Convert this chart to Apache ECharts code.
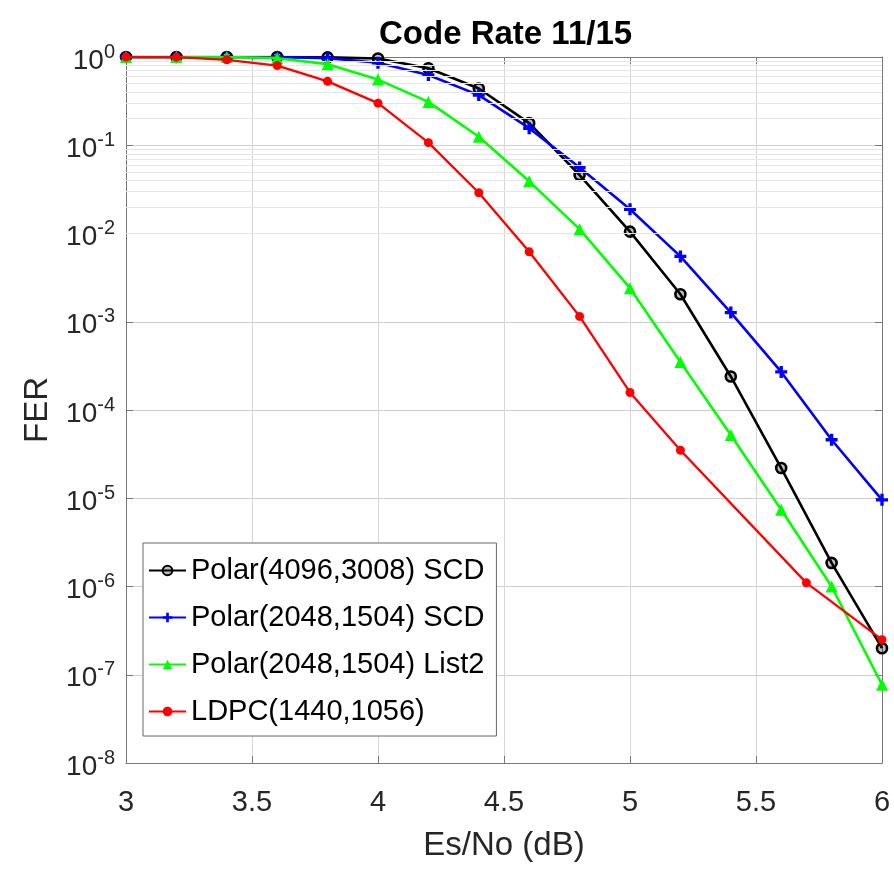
<!DOCTYPE html>
<html>
<head>
<meta charset="utf-8">
<script src="https://cdn.jsdelivr.net/npm/echarts@6/dist/echarts.min.js"></script>
<style>
html,body{margin:0;padding:0;background:#fff;}
#chart{width:894px;height:870px;}
</style>
</head>
<body>
<div id="chart"></div>
<script>
// ---- data ----
const esno = [3.0, 3.2, 3.4, 3.6, 3.8, 4.0, 4.2, 4.4, 4.6, 4.8, 5.0, 5.2, 5.4, 5.6, 5.8, 6.0];
const ferPolar4096SCD = [1, 1, 1, 1, 0.99, 0.96, 0.745, 0.44, 0.178, 0.046, 0.0105, 2.05e-3, 2.4e-4, 2.2e-5, 1.85e-6, 2.0e-7];
const ferPolar2048SCD = [1, 1, 1, 1, 0.97, 0.86, 0.625, 0.37, 0.156, 0.056, 0.0188, 5.5e-3, 1.27e-3, 2.7e-4, 4.6e-5, 9.6e-6];
const ferPolar2048List2 = [1, 1, 1, 0.97, 0.83, 0.555, 0.31, 0.125, 0.039, 0.0112, 2.4e-3, 3.5e-4, 5.2e-5, 7.4e-6, 1.0e-6, 7.7e-8];
const esnoLdpc = [3.0, 3.2, 3.4, 3.6, 3.8, 4.0, 4.2, 4.4, 4.6, 4.8, 5.0, 5.2, 5.7, 6.0];
const ferLdpc = [1, 0.995, 0.93, 0.8, 0.53, 0.30, 0.107, 0.029, 6.2e-3, 1.15e-3, 1.58e-4, 3.5e-5, 1.1e-6, 2.5e-7];
const seriesNames = ['Polar(4096,3008) SCD', 'Polar(2048,1504) SCD', 'Polar(2048,1504) List2', 'LDPC(1440,1056)'];
const decadeExponents = [-8, -7, -6, -5, -4, -3, -2, -1];
const minorMultipliers = [2, 3, 4, 5, 6, 7, 8, 9];

// ---- build ----
const FONT = '"Liberation Sans", Arial, Helvetica, sans-serif';
const pairs = (xs, ys) => xs.map((x, i) => [x, ys[i]]);
const minorGrid = [];
decadeExponents.forEach(e => minorMultipliers.forEach(m => minorGrid.push({ yAxis: m * Math.pow(10, e) })));

const plusPath = 'path://M3.6,0 H6.4 V3.6 H10 V6.4 H6.4 V10 H3.6 V6.4 H0 V3.6 H3.6 Z';

const chart = echarts.init(document.getElementById('chart'), null, { renderer: 'canvas' });
chart.setOption({
  animation: false,
  backgroundColor: '#ffffff',
  title: {
    text: 'Code Rate 11/15',
    left: 374, top: 13,
    textStyle: { fontFamily: FONT, fontSize: 33, fontWeight: 'bold', color: '#000' }
  },
  grid: { left: 126, right: 12, top: 57, bottom: 107, containLabel: false },
  legend: {
    orient: 'vertical',
    left: 143, top: 543,
    itemWidth: 37, itemHeight: 12, itemGap: 18,
    padding: [13, 12, 10, 5],
    borderColor: '#666', borderWidth: 1, backgroundColor: '#ffffff',
    textStyle: { fontFamily: FONT, fontSize: 29, color: '#000' },
    data: seriesNames
  },
  xAxis: [{
    type: 'value', min: 3, max: 6, interval: 0.5,
    name: 'Es/No (dB)', nameLocation: 'middle', nameGap: 66,
    nameTextStyle: { fontFamily: FONT, fontSize: 33, color: '#262626' },
    axisLine: { show: true, onZero: false, lineStyle: { color: '#777', width: 1 } },
    axisTick: { show: true, inside: true, length: 7, lineStyle: { color: '#777' } },
    axisLabel: { margin: 25, fontFamily: FONT, fontSize: 29, color: '#262626',
      formatter: v => String(v) },
    splitLine: { show: true, lineStyle: { color: '#d6d6d6', width: 1 } }
  }, {
    type: 'value', min: 3, max: 6, interval: 0.5, position: 'top',
    axisLine: { show: true, onZero: false, lineStyle: { color: '#777', width: 1 } },
    axisTick: { show: true, inside: true, length: 7, lineStyle: { color: '#777' } },
    axisLabel: { show: false }, splitLine: { show: false }
  }],
  yAxis: [{
    type: 'log', logBase: 10, min: 1e-8, max: 1,
    name: 'FER', nameLocation: 'middle', nameGap: 72, nameRotate: 90,
    nameTextStyle: { fontFamily: FONT, fontSize: 33, color: '#262626' },
    axisLine: { show: true, onZero: false, lineStyle: { color: '#777', width: 1 } },
    axisTick: { show: true, inside: true, length: 7, lineStyle: { color: '#777' } },
    axisLabel: {
      margin: 11,
      formatter: v => '{b|10}{s|' + Math.round(Math.log10(v)) + '}',
      rich: {
        b: { fontFamily: FONT, fontSize: 28, color: '#262626', padding: [8, 0, 0, 0] },
        s: { fontFamily: FONT, fontSize: 20, color: '#262626', padding: [0, 0, 10, 0] }
      }
    },
    splitLine: { show: true, lineStyle: { color: '#cfcfcf', width: 1 } }
  }, {
    type: 'log', logBase: 10, min: 1e-8, max: 1, position: 'right',
    axisLine: { show: true, onZero: false, lineStyle: { color: '#777', width: 1 } },
    axisTick: { show: true, inside: true, length: 7, lineStyle: { color: '#777' } },
    axisLabel: { show: false }, splitLine: { show: false }
  }],
  series: [
    {
      type: 'line', data: [], silent: true, z: 0,
      markLine: {
        silent: true, symbol: ['none', 'none'], animation: false,
        label: { show: false },
        lineStyle: { color: '#e6e6e6', width: 1, type: 'solid' },
        emphasis: { disabled: true },
        data: minorGrid
      }
    },
    {
      name: seriesNames[0], type: 'line', data: pairs(esno, ferPolar4096SCD),
      color: '#000000', lineStyle: { color: '#000000', width: 2.6 },
      symbol: 'circle', symbolSize: 10,
      itemStyle: { color: 'rgba(0,0,0,0.25)', borderColor: '#000000', borderWidth: 2.6 }, z: 3
    },
    {
      name: seriesNames[1], type: 'line', data: pairs(esno, ferPolar2048SCD),
      color: '#0000ff', lineStyle: { color: '#0000ff', width: 2.6 },
      symbol: plusPath, symbolSize: 12, symbolKeepAspect: true,
      itemStyle: { color: '#0000ff' }, z: 4
    },
    {
      name: seriesNames[2], type: 'line', data: pairs(esno, ferPolar2048List2),
      color: '#00ff00', lineStyle: { color: '#00ff00', width: 2.6 },
      symbol: 'triangle', symbolSize: 12,
      itemStyle: { color: '#00ff00' }, z: 5
    },
    {
      name: seriesNames[3], type: 'line', data: pairs(esnoLdpc, ferLdpc),
      color: '#ff0000', lineStyle: { color: '#ff0000', width: 2.3 },
      symbol: 'circle', symbolSize: 9,
      itemStyle: { color: '#ff0000' }, z: 6
    }
  ]
});
</script>
</body>
</html>
